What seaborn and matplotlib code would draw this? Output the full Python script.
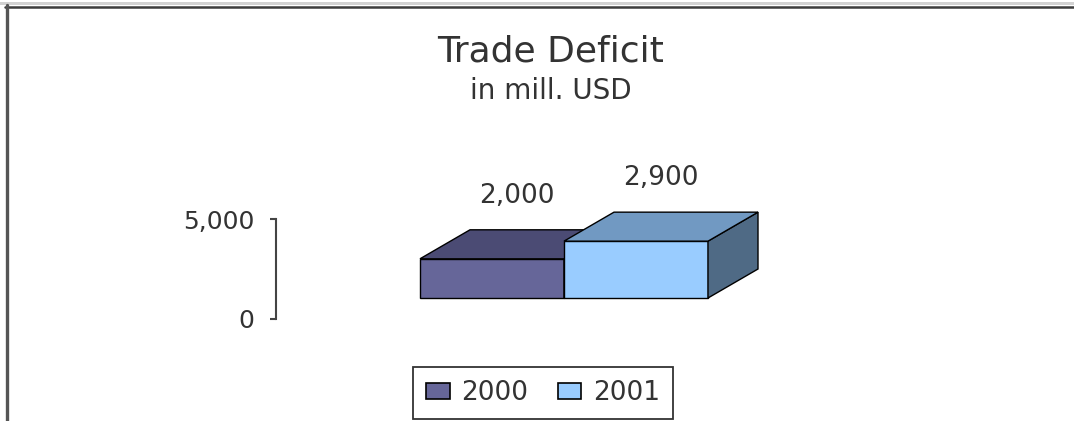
import matplotlib
matplotlib.use("Agg")
import matplotlib.pyplot as plt
import seaborn as sns
import pandas as pd
from matplotlib.patches import Polygon, Patch, Rectangle
from matplotlib.lines import Line2D
from matplotlib.transforms import IdentityTransform
from matplotlib.ticker import FixedLocator, StrMethodFormatter

# ---- data ----
years = ["2000", "2001"]
values = [2000, 2900]
category = ["Trade Deficit"]
y_ticks = [0, 5000]
title = "Trade Deficit"
subtitle = "in mill. USD"

# ---- styles ----
front_colors = ["#666699", "#99ccff"]
top_colors = ["#4b4b74", "#7199c2"]
side_colors = ["#3e3e60", "#4f6a85"]
text_color = "#333333"

sns.set_theme(style="white")
plt.rcParams["font.family"] = ["DejaVu Sans"]

W, H, DPI = 1074, 421, 100
fig = plt.figure(figsize=(W / DPI, H / DPI), dpi=DPI)
fig.patch.set_facecolor("white")

px_per_unit = 0.0196

# bars axes
ax = fig.add_axes([384 / W, 123 / H, 360 / W, 5000 * px_per_unit / H])
df = pd.DataFrame({"cat": category * len(years), "year": years, "value": values})
sns.barplot(data=df, x="cat", y="value", hue="year", palette=front_colors,
            width=0.8, saturation=1, edgecolor="black", linewidth=1,
            legend=False, ax=ax)
ax.set_xlim(-0.5, 0.5)
ax.set_ylim(0, 5000)
ax.axis("off")
ax.patch.set_alpha(0)

dx, dy = 50, 29  # depth of the 3D effect in pixels
bars = sorted([p for p in ax.patches if p.get_height() > 0], key=lambda p: p.get_x())
for i, (bar, val) in enumerate(zip(bars, values)):
    x0, y0 = bar.get_x(), bar.get_y()
    x1, y1 = x0 + bar.get_width(), y0 + bar.get_height()
    (X0, Y0) = ax.transData.transform((x0, y0))
    (X1, Y1) = ax.transData.transform((x1, y1))
    z = 2 + 3 * i
    bar.set_zorder(z)
    bar.set_clip_on(False)
    top = Polygon([(X0, Y1), (X1, Y1), (X1 + dx, Y1 + dy), (X0 + dx, Y1 + dy)],
                  closed=True, facecolor=top_colors[i], edgecolor="black",
                  linewidth=1, transform=IdentityTransform(), zorder=z + 1,
                  clip_on=False)
    side = Polygon([(X1, Y0), (X1 + dx, Y0 + dy), (X1 + dx, Y1 + dy), (X1, Y1)],
                   closed=True, facecolor=side_colors[i], edgecolor="black",
                   linewidth=1, transform=IdentityTransform(), zorder=z + 0.5,
                   clip_on=False)
    ax.add_patch(side)
    ax.add_patch(top)
    ax.annotate(f"{val:,.0f}", xy=((x0 + x1) / 2, y1), xycoords="data",
                xytext=(dx / 2 * 0.72, (dy + 34) * 0.72), textcoords="offset points",
                ha="center", va="center", fontsize=19, color=text_color,
                annotation_clip=False, zorder=20)

# value axis
ay = fig.add_axes([276 / W, 102 / H, 1 / W, 100 / H])
ay.set_ylim(0, 5000)
ay.patch.set_alpha(0)
for s in ["top", "right", "bottom"]:
    ay.spines[s].set_visible(False)
ay.spines["left"].set_color("#444444")
ay.spines["left"].set_linewidth(1.5)
ay.set_xticks([])
ay.yaxis.set_major_locator(FixedLocator(y_ticks))
ay.yaxis.set_major_formatter(StrMethodFormatter("{x:,.0f}"))
ay.tick_params(axis="y", left=True, direction="out", length=4.5, width=1.5,
               color="#444444", labelsize=18, labelcolor=text_color, pad=11)

# titles
fig.text(551 / W, 369 / H, title, ha="center", va="center", fontsize=26, color=text_color)
fig.text(551 / W, 330 / H, subtitle, ha="center", va="center", fontsize=20, color=text_color)

# legend
handles = [Patch(facecolor=c, edgecolor="black", linewidth=1.2) for c in front_colors]
leg = fig.legend(handles, years, loc="center", bbox_to_anchor=(543 / W, 28 / H),
                 ncol=2, fontsize=19, frameon=True, fancybox=False, shadow=False,
                 handlelength=0.9, handleheight=0.55, handletextpad=0.45,
                 columnspacing=1.1, borderpad=0.5, borderaxespad=0)
leg.get_frame().set_edgecolor("black")
leg.get_frame().set_linewidth(1.3)
for t in leg.get_texts():
    t.set_color(text_color)

# frame border lines
fig.add_artist(Rectangle((0, 416 / H), 1, 3 / H, transform=fig.transFigure,
                         facecolor="#d2d2d2", edgecolor="none"))
fig.add_artist(Line2D([5 / W, 1], [414.5 / H, 414.5 / H], transform=fig.transFigure,
                      color="#3c3c3c", linewidth=1.8))
fig.add_artist(Line2D([7 / W, 7 / W], [0, 416 / H], transform=fig.transFigure,
                      color="#555555", linewidth=2.4))

fig.savefig("out.png", dpi=DPI)
